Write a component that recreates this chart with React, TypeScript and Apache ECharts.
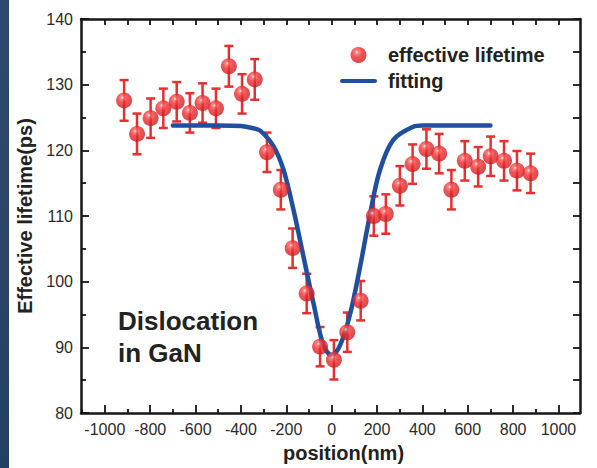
import React, { useEffect, useRef } from 'react';
import * as echarts from 'echarts';

const FONT = '"Liberation Sans", Arial, Helvetica, sans-serif';

// measured data points (position nm, effective lifetime ps, error ps)
const posX = [-915, -858, -798, -742, -683, -625, -569, -510, -453, -395, -339, -285, -224, -172, -110, -51, 10, 69, 128, 186, 239, 301, 357, 418, 474, 528, 587, 646, 701, 760, 817, 877];
const lifetime = [127.6, 122.5, 124.9, 126.4, 127.4, 125.7, 127.2, 126.4, 132.8, 128.6, 130.8, 119.7, 114.0, 105.1, 98.2, 90.1, 88.1, 92.3, 97.1, 110.0, 110.3, 114.6, 117.9, 120.2, 119.5, 114.0, 118.4, 117.5, 119.1, 118.4, 116.9, 116.5];
const lifetimeErr = [3.1, 3.1, 3.0, 3.0, 3.0, 3.0, 3.0, 3.0, 3.1, 3.0, 3.1, 3.0, 3.0, 3.0, 3.0, 3.0, 3.0, 3.0, 3.0, 3.0, 3.0, 3.0, 3.0, 3.0, 3.0, 3.0, 3.0, 3.0, 3.0, 3.0, 3.0, 3.0];

// fitting curve
const fitX = [-700, -500, -400, -350, -315, -256, -212, -168, -124, -80, -36, 0, 37, 81, 125, 169, 213, 272, 360, 400, 500, 700];
const fitY = [123.8, 123.8, 123.7, 123.4, 123.0, 120.6, 117.0, 110.9, 103.8, 96.7, 90.3, 88.8, 90.3, 95.0, 102.2, 110.2, 117.0, 121.6, 123.6, 123.8, 123.8, 123.8];

// axis ticks
const xMajor = [-1000, -800, -600, -400, -200, 0, 200, 400, 600, 800, 1000];
const xMinor = [-1100, -900, -700, -500, -300, -100, 100, 300, 500, 700, 900];
const xAll = [-1000, -900, -800, -700, -600, -500, -400, -300, -200, -100, 0, 100, 200, 300, 400, 500, 600, 700, 800, 900, 1000];

const RED = '#e5302f';
const BLUE = '#1f4f9e';
const AXIS = '#161616';

export default function App() {
  const ref = useRef<HTMLDivElement>(null);
  useEffect(() => {
    const chart = echarts.init(ref.current!, null, { renderer: 'svg' });
    const sphere = new echarts.graphic.RadialGradient(0.4, 0.32, 0.75, [
      { offset: 0, color: '#fff2f2' },
      { offset: 0.14, color: '#fc6a68' },
      { offset: 0.42, color: '#ee2b2d' },
      { offset: 1, color: '#c01b1f' },
    ]);
    const pts = posX.map((x, i) => [x, lifetime[i], lifetimeErr[i]]);
    const fit = fitX.map((x, i) => [x, fitY[i]]);
    const hidden = { show: false };
    const option = {
      animation: false,
      backgroundColor: '#ffffff',
      grid: { left: 81, right: 17, top: 19, bottom: 53 },
      legend: {
        orient: 'vertical',
        left: 340,
        top: 45,
        padding: 0,
        itemWidth: 37,
        itemHeight: 16,
        itemGap: 6,
        data: [
          { name: 'effective lifetime', icon: 'circle' },
          { name: 'fitting', icon: 'path://M2,0 L35,0 A2,2 0 0 1 35,4 L2,4 A2,2 0 0 1 2,0 Z' },
        ],
        textStyle: { fontSize: 20, fontWeight: 'bold', color: '#222', fontFamily: FONT, padding: [0, 0, 0, 6] },
      },
      xAxis: [
        {
          type: 'value', min: -1105, max: 1095, position: 'bottom',
          axisLine: { show: true, onZero: false, lineStyle: { color: AXIS, width: 2.5 } },
          axisTick: { show: true, inside: true, length: 8, customValues: xMajor, lineStyle: { color: AXIS, width: 1.8 } },
          axisLabel: { customValues: xMajor, fontSize: 16, color: '#2b2b2b', fontFamily: FONT, margin: 8, formatter: (v: number) => String(v) },
          splitLine: hidden,
          name: 'position(nm)', nameLocation: 'middle', nameGap: 30,
          nameTextStyle: { fontSize: 20, fontWeight: 'bold', color: '#222', fontFamily: FONT, padding: [0, 0, 0, 26] },
        },
        {
          type: 'value', min: -1105, max: 1095, position: 'bottom',
          axisLine: { show: false, onZero: false },
          axisTick: { show: true, inside: true, length: 4, customValues: xMinor, lineStyle: { color: AXIS, width: 1.8 } },
          axisLabel: hidden, splitLine: hidden,
        },
        {
          type: 'value', min: -1105, max: 1095, position: 'top',
          axisLine: { show: true, onZero: false, lineStyle: { color: AXIS, width: 2.5 } },
          axisTick: { show: true, inside: true, length: 6, customValues: xAll, lineStyle: { color: AXIS, width: 1.8 } },
          axisLabel: hidden, splitLine: hidden,
        },
      ],
      yAxis: [
        {
          type: 'value', min: 80, max: 140, interval: 10, position: 'left',
          axisLine: { show: true, onZero: false, lineStyle: { color: AXIS, width: 2.5 } },
          axisTick: { show: true, inside: true, length: 8, lineStyle: { color: AXIS, width: 1.8 } },
          minorTick: { show: true, splitNumber: 2, length: 5, lineStyle: { color: AXIS, width: 1.8 } },
          axisLabel: { fontSize: 16, color: '#2b2b2b', fontFamily: FONT, margin: 8 },
          splitLine: hidden,
          name: 'Effective lifetime(ps)', nameLocation: 'middle', nameGap: 44,
          nameTextStyle: { fontSize: 20, fontWeight: 'bold', color: '#222', fontFamily: FONT },
        },
        {
          type: 'value', min: 80, max: 140, interval: 5, position: 'right',
          axisLine: { show: true, onZero: false, lineStyle: { color: AXIS, width: 2.5 } },
          axisTick: { show: true, inside: true, length: 7, lineStyle: { color: AXIS, width: 1.8 } },
          axisLabel: hidden, splitLine: hidden,
        },
      ],
      graphic: [
        {
          type: 'rect', left: 0, top: 0, z: 100,
          shape: { width: 9, height: 468 },
          style: {
            fill: new echarts.graphic.LinearGradient(0, 0, 0, 1, [
              { offset: 0, color: '#2c4a6d' },
              { offset: 0.5, color: '#2a476a' },
              { offset: 1, color: '#22405f' },
            ]),
          },
        },
        {
          type: 'text', left: 118, top: 305, z: 100,
          style: {
            text: 'Dislocation\nin GaN', fontSize: 26, fontWeight: 'bold', fill: '#222',
            fontFamily: FONT, lineHeight: 32,
          },
        },
      ],
      series: [
        {
          type: 'custom',
          xAxisIndex: 0, yAxisIndex: 0,
          data: pts,
          encode: { x: 0, y: 1 },
          z: 2,
          renderItem: (params: any, api: any) => {
            const x = api.value(0), y = api.value(1), e = api.value(2);
            const top = api.coord([x, y + e]);
            const bot = api.coord([x, y - e]);
            const hw = 4.5;
            const st = { stroke: RED, lineWidth: 2.5 };
            return {
              type: 'group',
              children: [
                { type: 'line', shape: { x1: top[0], y1: top[1], x2: bot[0], y2: bot[1] }, style: st },
                { type: 'line', shape: { x1: top[0] - hw, y1: top[1], x2: top[0] + hw, y2: top[1] }, style: st },
                { type: 'line', shape: { x1: bot[0] - hw, y1: bot[1], x2: bot[0] + hw, y2: bot[1] }, style: st },
              ],
            };
          },
        },
        {
          name: 'fitting', type: 'line', xAxisIndex: 0, yAxisIndex: 0,
          data: fit, smooth: 0.35, symbol: 'none', z: 3,
          lineStyle: { color: BLUE, width: 4.5, cap: 'round' },
          itemStyle: { color: BLUE },
        },
        {
          name: 'effective lifetime', type: 'scatter', xAxisIndex: 0, yAxisIndex: 0,
          data: pts.map((p) => [p[0], p[1]]), symbol: 'circle', symbolSize: 16, z: 4,
          itemStyle: { color: sphere },
        },
      ],
    };
    chart.setOption(option as any);
    return () => chart.dispose();
  }, []);
  return <div ref={ref} style={{ position: 'absolute', left: 0, top: 0, width: 597, height: 468 }} />;
}
